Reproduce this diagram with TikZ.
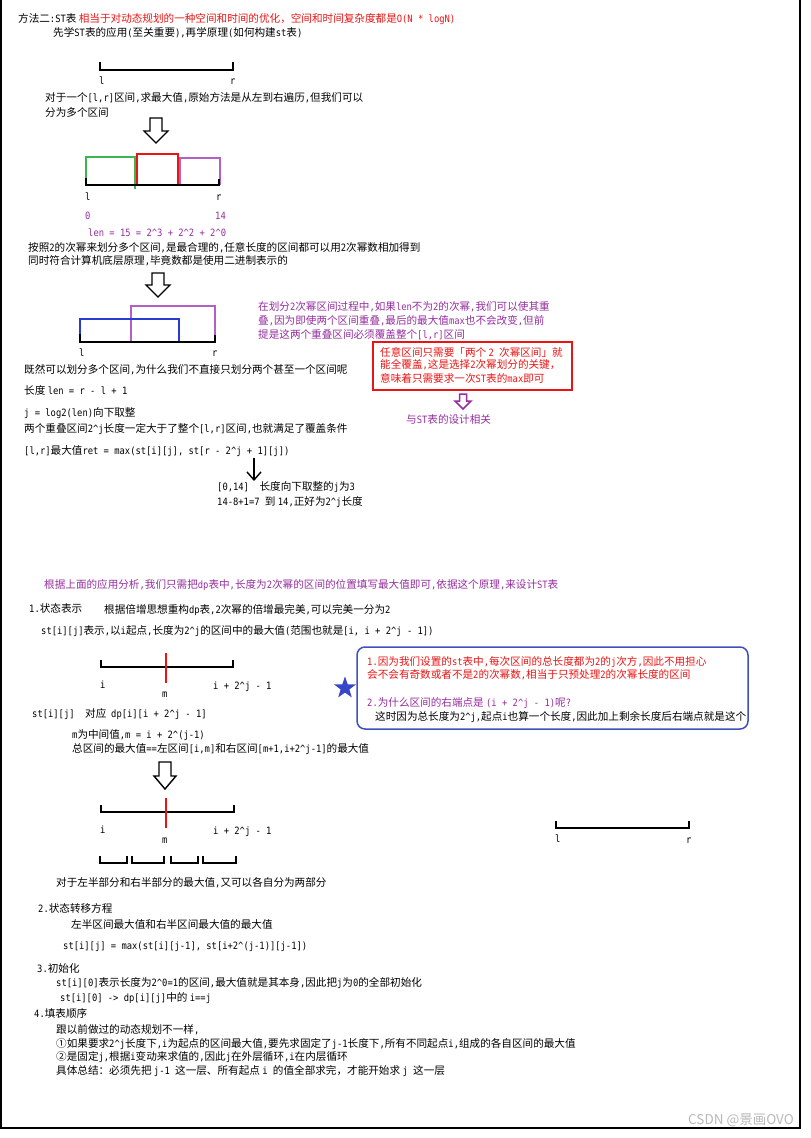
\documentclass[tikz,border=0pt]{standalone}
\usepackage{fontspec}
\setmainfont{DejaVu Sans Mono}[Scale=0.95,FakeStretch=0.875]
\newfontfamily\cjkfont{Noto Sans CJK SC}
\newfontfamily\latfont{DejaVu Sans Mono}[Scale=0.95,FakeStretch=0.875]
\usetikzlibrary{arrows.meta,shapes.geometric}
% automatic switching between CJK and Latin fonts
\newXeTeXintercharclass\CJKcls
\newcount\cccount
\def\setcjkrange#1#2{\cccount=#1\relax
  \loop\XeTeXcharclass\cccount=\CJKcls
  \ifnum\cccount<#2\relax\advance\cccount by 1\relax\repeat}
\setcjkrange{"3000}{"303F}
\setcjkrange{"4E00}{"9FFF}
\setcjkrange{"FF00}{"FFEF}
\setcjkrange{"2460}{"24FF}
\XeTeXinterchartoks 0 \CJKcls = {\cjkfont}
\XeTeXinterchartoks 4095 \CJKcls = {\cjkfont}
\XeTeXinterchartoks \CJKcls 0 = {\latfont}
\XeTeXinterchartoks 4095 0 = {\latfont}
\XeTeXinterchartokenstate=1
\definecolor{myred}{RGB}{235,20,20}
\definecolor{mypurple}{RGB}{150,45,160}
\definecolor{barpurple}{RGB}{180,95,200}
\definecolor{mygreen}{RGB}{60,180,80}
\definecolor{barblue}{RGB}{40,60,210}
\definecolor{boxblue}{RGB}{65,80,185}
\definecolor{starblue}{RGB}{55,70,200}
\definecolor{wmgray}{RGB}{185,185,185}
\newcommand\crt{\textasciicircum}
\begin{document}
\begin{tikzpicture}[x=1pt,y=-1pt,line join=miter,
  txt/.style={anchor=west,inner sep=0pt,font=\fontsize{10.6pt}{13pt}\selectfont},
  rtxt/.style={txt,text=myred},
  ptxt/.style={txt,text=mypurple},
  brk/.style={draw=black,line width=1.5pt},
  bar/.style={line width=1.5pt},
  blockarrow/.style={draw=black,line width=1.4pt,fill=white},
  linkarrow/.style={draw=black,line width=1.4pt,-{Straight Barb[length=8pt,width=14pt,line width=1.4pt]}}]
\useasboundingbox (0,0) rectangle (811,1138);
\fill[white] (0,0) rectangle (811,1138);
% frame
\draw[line width=1.2pt] (1,0) -- (1,1128) -- (800,1128) -- (800,0);

% ---- top text
\node[txt] (t01) at (18,19) {方法二:ST表 \textcolor{myred}{相当于对动态规划的一种空间和时间的优化，空间和时间复杂度都是O(N * logN)}};
\node[txt] (t02) at (53,33) {先学ST表的应用(至关重要),再学原理(如何构建st表)};

% bracket 1
\draw[brk] (100,62) -- (100,70) -- (233,70) -- (233,62);
\node[txt] (l1) at (99,81) {l};
\node[txt] (r1) at (230,82) {r};
\node[txt] (t03) at (45,98) {对于一个[l,r]区间,求最大值,原始方法是从左到右遍历,但我们可以};
\node[txt] (t04) at (45,112) {分为多个区间};

% arrow 1
\draw[blockarrow,shift={(156,118)}] (-6,0) -- (6,0) -- (6,13) -- (12,13) -- (0,25) -- (-12,13) -- (-6,13) -- cycle;

% bars 1
\draw[bar,mygreen] (86,185) -- (86,157) -- (135,157) -- (135,189);
\draw[bar,myred] (137,186) -- (137,154) -- (178,154) -- (178,186);
\draw[bar,barpurple] (180,186) -- (180,158) -- (220,158) -- (220,185);
\draw[brk] (86,178) -- (86,185) -- (219,185) -- (219,179);
\node[txt] (l2) at (85,197) {l};
\node[txt] (r2) at (216,198) {r};
\node[ptxt] (n0) at (85,216) {0};
\node[ptxt] (n14) at (215,216) {14};
\node[ptxt] (t05) at (88,233) {len = 15 = 2\crt3 + 2\crt2 + 2\crt0};
\node[txt] (t06) at (28,248) {按照2的次幂来划分多个区间,是最合理的,任意长度的区间都可以用2次幂数相加得到};
\node[txt] (t07) at (28,261) {同时符合计算机底层原理,毕竟数都是使用二进制表示的};

% arrow 2
\draw[blockarrow,shift={(158,273)}] (-6,0) -- (6,0) -- (6,12) -- (12,12) -- (0,24) -- (-12,12) -- (-6,12) -- cycle;

% overlap bars
\draw[bar,barpurple] (131,342) -- (131,306) -- (215,306) -- (215,342);
\draw[bar,barblue] (80,334) -- (80,319) -- (179,319) -- (179,342);
\draw[brk] (80,334) -- (80,342) -- (215,342) -- (215,335);
\node[txt] (l3) at (79,353) {l};
\node[txt] (r3) at (212,354) {r};

% purple note
\node[ptxt] (t08) at (258,307) {在划分2次幂区间过程中,如果len不为2的次幂,我们可以使其重};
\node[ptxt] (t09) at (258,321) {叠,因为即使两个区间重叠,最后的最大值max也不会改变,但前};
\node[ptxt] (t10) at (258,335) {提是这两个重叠区间必须覆盖整个[l,r]区间};

% red box
\draw[myred,line width=1.6pt] (373,342) rectangle (572,390);
\node[rtxt] (t11) at (380,352) {任意区间只需要「两个 2 次幂区间」就};
\node[rtxt] (t12) at (380,365) {能全覆盖,这是选择2次幂划分的关键，};
\node[rtxt] (t13) at (380,378) {意味着只需要求一次ST表的max即可};
\draw[mypurple,line width=1.5pt,fill=white,shift={(463,394)}] (-3.5,0) -- (3.5,0) -- (3.5,7) -- (8,7) -- (0,15) -- (-8,7) -- (-3.5,7) -- cycle;
\node[ptxt] (t14) at (406,419) {与ST表的设计相关};

% left block
\node[txt] (t15) at (24,370) {既然可以划分多个区间,为什么我们不直接只划分两个甚至一个区间呢};
\node[txt] (t16) at (24,390) {长度 len = r - l + 1};
\node[txt] (t17) at (24,413) {j = log2(len)向下取整};
\node[txt] (t18) at (24,429) {两个重叠区间2\crt j长度一定大于了整个[l,r]区间,也就满足了覆盖条件};
\node[txt] (t19) at (24,451) {[l,r]最大值ret = max(st[i][j], st[r - 2\crt j + 1][j])};
\coordinate (a3s) at (254,458);
\coordinate (a3e) at (254,481);
\draw[linkarrow] (a3s) -- (a3e);
\node[txt] (t20) at (217,487) {[0,14]\ \ 长度向下取整的j为3};
\node[txt] (t21) at (217,502) {14-8+1=7 到 14,正好为2\crt j长度};

% ---- second part
\node[ptxt] (t22) at (44,585) {根据上面的应用分析,我们只需把dp表中,长度为2次幂的区间的位置填写最大值即可,依据这个原理,来设计ST表};
\node[txt] (t23) at (29,608) {1.状态表示};
\node[txt] (t24) at (104,610) {根据倍增思想重构dp表,2次幂的倍增最完美,可以完美一分为2};
\node[txt] (t25) at (41,631) {st[i][j]表示,以i起点,长度为2\crt j的区间中的最大值(范围也就是[i, i + 2\crt j - 1])};

% bracket 3
\draw[brk] (101,660) -- (101,667) -- (233,667) -- (233,660);
\draw[bar,myred] (166,653) -- (166,683);
\node[txt] (i1) at (100,685) {i};
\node[txt] (m1) at (162,695) {m};
\node[txt] (e1) at (213,687) {i + 2\crt j - 1};
\node[txt] (t26) at (32,714) {st[i][j]\ \ 对应\ \ dp[i][i + 2\crt j - 1]};
\node[txt] (t27) at (72,735) {m为中间值,m = i + 2\crt(j-1)};
\node[txt] (t28) at (72,749) {总区间的最大值==左区间[i,m]和右区间[m+1,i+2\crt j-1]的最大值};

% blue note
\draw[boxblue,line width=1.5pt,rounded corners=8pt] (357,647) rectangle (748,729);
\node[star,star points=5,star point ratio=2.5,fill=starblue,inner sep=0pt,minimum size=23pt] (star) at (345,688) {};
\node[rtxt] (t29) at (367,662) {1.因为我们设置的st表中,每次区间的总长度都为2的j次方,因此不用担心};
\node[rtxt] (t30) at (367,675) {会不会有奇数或者不是2的次幂数,相当于只预处理2的次幂长度的区间};
\node[ptxt] (t31) at (367,703) {2.为什么区间的右端点是 (i + 2\crt j - 1)呢?};
\node[txt] (t32) at (375,717) {这时因为总长度为2\crt j,起点i也算一个长度,因此加上剩余长度后右端点就是这个};

% arrow 4
\draw[blockarrow,shift={(165,762)}] (-6,0) -- (6,0) -- (6,14) -- (11,14) -- (0,27) -- (-11,14) -- (-6,14) -- cycle;

% bracket 5
\draw[brk] (101,805) -- (101,812) -- (234,812) -- (234,805);
\draw[bar,myred] (166,798) -- (166,828);
\node[txt] (i2) at (100,830) {i};
\node[txt] (m2) at (162,841) {m};
\node[txt] (e2) at (213,832) {i + 2\crt j - 1};
\draw[brk] (100,856) -- (100,863) -- (127,863) -- (127,856);
\draw[brk] (132,856) -- (132,863) -- (164,863) -- (164,856);
\draw[brk] (171,856) -- (171,863) -- (198,863) -- (198,856);
\draw[brk] (203,856) -- (203,863) -- (236,863) -- (236,856);
\node[txt] (t33) at (56,883) {对于左半部分和右半部分的最大值,又可以各自分为两部分};

% right bracket
\draw[brk] (556,821) -- (556,828) -- (689,828) -- (689,821);
\node[txt] (l4) at (555,839) {l};
\node[txt] (r4) at (686,841) {r};

% ---- steps
\node[txt] (t34) at (38,908) {2.状态转移方程};
\node[txt] (t35) at (71,924) {左半区间最大值和右半区间最大值的最大值};
\node[txt] (t36) at (63,947) {st[i][j] = max(st[i][j-1], st[i+2\crt(j-1)][j-1])};
\node[txt] (t37) at (37,968) {3.初始化};
\node[txt] (t38) at (56,983) {st[i][0]表示长度为2\crt0=1的区间,最大值就是其本身,因此把j为0的全部初始化};
\node[txt] (t39) at (60,998) {st[i][0] -> dp[i][j]中的 i==j};
\node[txt] (t40) at (34,1013) {4.填表顺序};
\node[txt] (t41) at (56,1030) {跟以前做过的动态规划不一样,};
\node[txt] (t42) at (56,1044) {①如果要求2\crt j长度下,i为起点的区间最大值,要先求固定了j-1长度下,所有不同起点i,组成的各自区间的最大值};
\node[txt] (t43) at (56,1057) {②是固定j,根据i变动来求值的,因此j在外层循环,i在内层循环};
\node[txt] (t44) at (56,1071) {具体总结：必须先把 j-1 这一层、所有起点 i 的值全部求完，才能开始求 j 这一层};

\node[anchor=west,inner sep=0pt,text=wmgray,font={\XeTeXinterchartokenstate=0 \cjkfont\fontsize{13.5pt}{15pt}\selectfont}] (wm) at (688,1120) {CSDN @景画OVO};
\end{tikzpicture}
\end{document}
